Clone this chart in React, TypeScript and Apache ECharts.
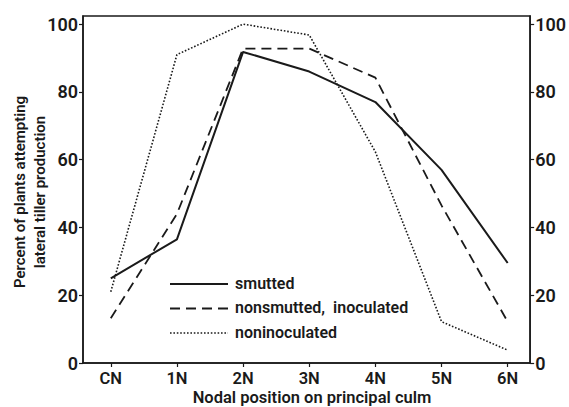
import React, { useEffect, useRef } from "react";
import * as echarts from "echarts";

const categories = ["CN", "1N", "2N", "3N", "4N", "5N", "6N"];
const smutted = [25, 36.5, 91.8, 86, 77, 57, 29.5];
const nonsmuttedInoculated = [13.2, 44, 92.8, 92.8, 84.2, 46.5, 12.2];
const noninoculated = [21, 91, 100, 96.8, 62.3, 12.2, 3.8];
const yTicks = [0, 20, 40, 60, 80, 100];
const seriesNames = ["smutted", "nonsmutted,  inoculated", "noninoculated"];

const FONT = "Roboto, 'Liberation Sans', sans-serif";
const INK = "#1a1a1a";

const SOLID: number[] | null = null;
const DASH = [10, 6];
const DOT = [1.6, 1.8];
const styles = [
  { width: 2, dash: SOLID },
  { width: 1.8, dash: DASH },
  { width: 1.6, dash: DOT },
];

const toPairs = (vals: number[]) => vals.map((v, i) => [i, v]);

export default function App() {
  const ref = useRef<HTMLDivElement>(null);
  useEffect(() => {
    if (!ref.current) return;
    const chart = echarts.init(ref.current, undefined, { renderer: "svg" });
    const xIdx = categories.map((_, i) => i);
    const yAxisCommon = {
      type: "value",
      min: 0,
      max: 102.4,
      splitLine: { show: false },
      axisLine: { show: true, onZero: false, lineStyle: { color: INK, width: 1.5 } },
      axisTick: { show: true, length: 4, customValues: yTicks, lineStyle: { color: INK, width: 1.2 } },
      axisLabel: {
        customValues: yTicks,
        color: INK,
        fontSize: 18,
        fontWeight: 600,
        fontFamily: FONT,
        margin: 5,
      },
    };
    const allData = [smutted, nonsmuttedInoculated, noninoculated];
    const legendGraphics: any[] = [];
    seriesNames.forEach((name, i) => {
      const y = 283 + i * 24.5;
      legendGraphics.push({
        type: "line",
        shape: { x1: 170, y1: y + 1, x2: 228, y2: y + 1 },
        style: { stroke: INK, lineWidth: styles[i].width, lineDash: styles[i].dash },
      });
      legendGraphics.push({
        type: "text",
        x: 235,
        y,
        style: {
          text: name,
          fill: INK,
          font: `600 16px ${FONT}`,
          verticalAlign: "middle",
        },
      });
    });
    chart.setOption({
      animation: false,
      backgroundColor: "#fff",
      grid: {
        left: 83,
        right: 34,
        top: 16,
        bottom: 44,
        show: true,
        borderColor: INK,
        borderWidth: 1.5,
      },
      xAxis: {
        type: "value",
        min: -0.42,
        max: 6.34,
        splitLine: { show: false },
        axisLine: { show: true, onZero: false, lineStyle: { color: INK, width: 1.5 } },
        axisTick: { show: true, length: 4, customValues: xIdx, lineStyle: { color: INK, width: 1.2 } },
        axisLabel: {
          customValues: xIdx,
          formatter: (v: number) => categories[Math.round(v)] ?? "",
          color: INK,
          fontSize: 16.5,
          fontWeight: 600,
          fontFamily: FONT,
          lineHeight: 14,
          margin: 8,
        },
      },
      yAxis: [
        { ...yAxisCommon, position: "left" },
        { ...yAxisCommon, position: "right" },
      ],
      series: seriesNames.map((name, i) => ({
        name,
        type: "line",
        data: toPairs(allData[i]),
        symbol: "none",
        lineStyle: { color: INK, width: styles[i].width, type: styles[i].dash ?? "solid" },
      })),
      graphic: [
        ...legendGraphics,
        {
          type: "text",
          x: 30,
          y: 192,
          rotation: Math.PI / 2,
          style: {
            text: "Percent of plants attempting\nlateral tiller production",
            fill: INK,
            font: `600 15px ${FONT}`,
            align: "center",
            verticalAlign: "middle",
            lineHeight: 20,
          },
        },
        {
          type: "text",
          x: 312,
          y: 397,
          style: {
            text: "Nodal position on principal culm",
            fill: INK,
            font: `600 16.5px ${FONT}`,
            align: "center",
            verticalAlign: "middle",
            lineHeight: 15,
          },
        },
      ],
    });
    return () => chart.dispose();
  }, []);
  return <div ref={ref} style={{ width: 569, height: 407, position: "absolute", left: 0, top: 0 }} />;
}
